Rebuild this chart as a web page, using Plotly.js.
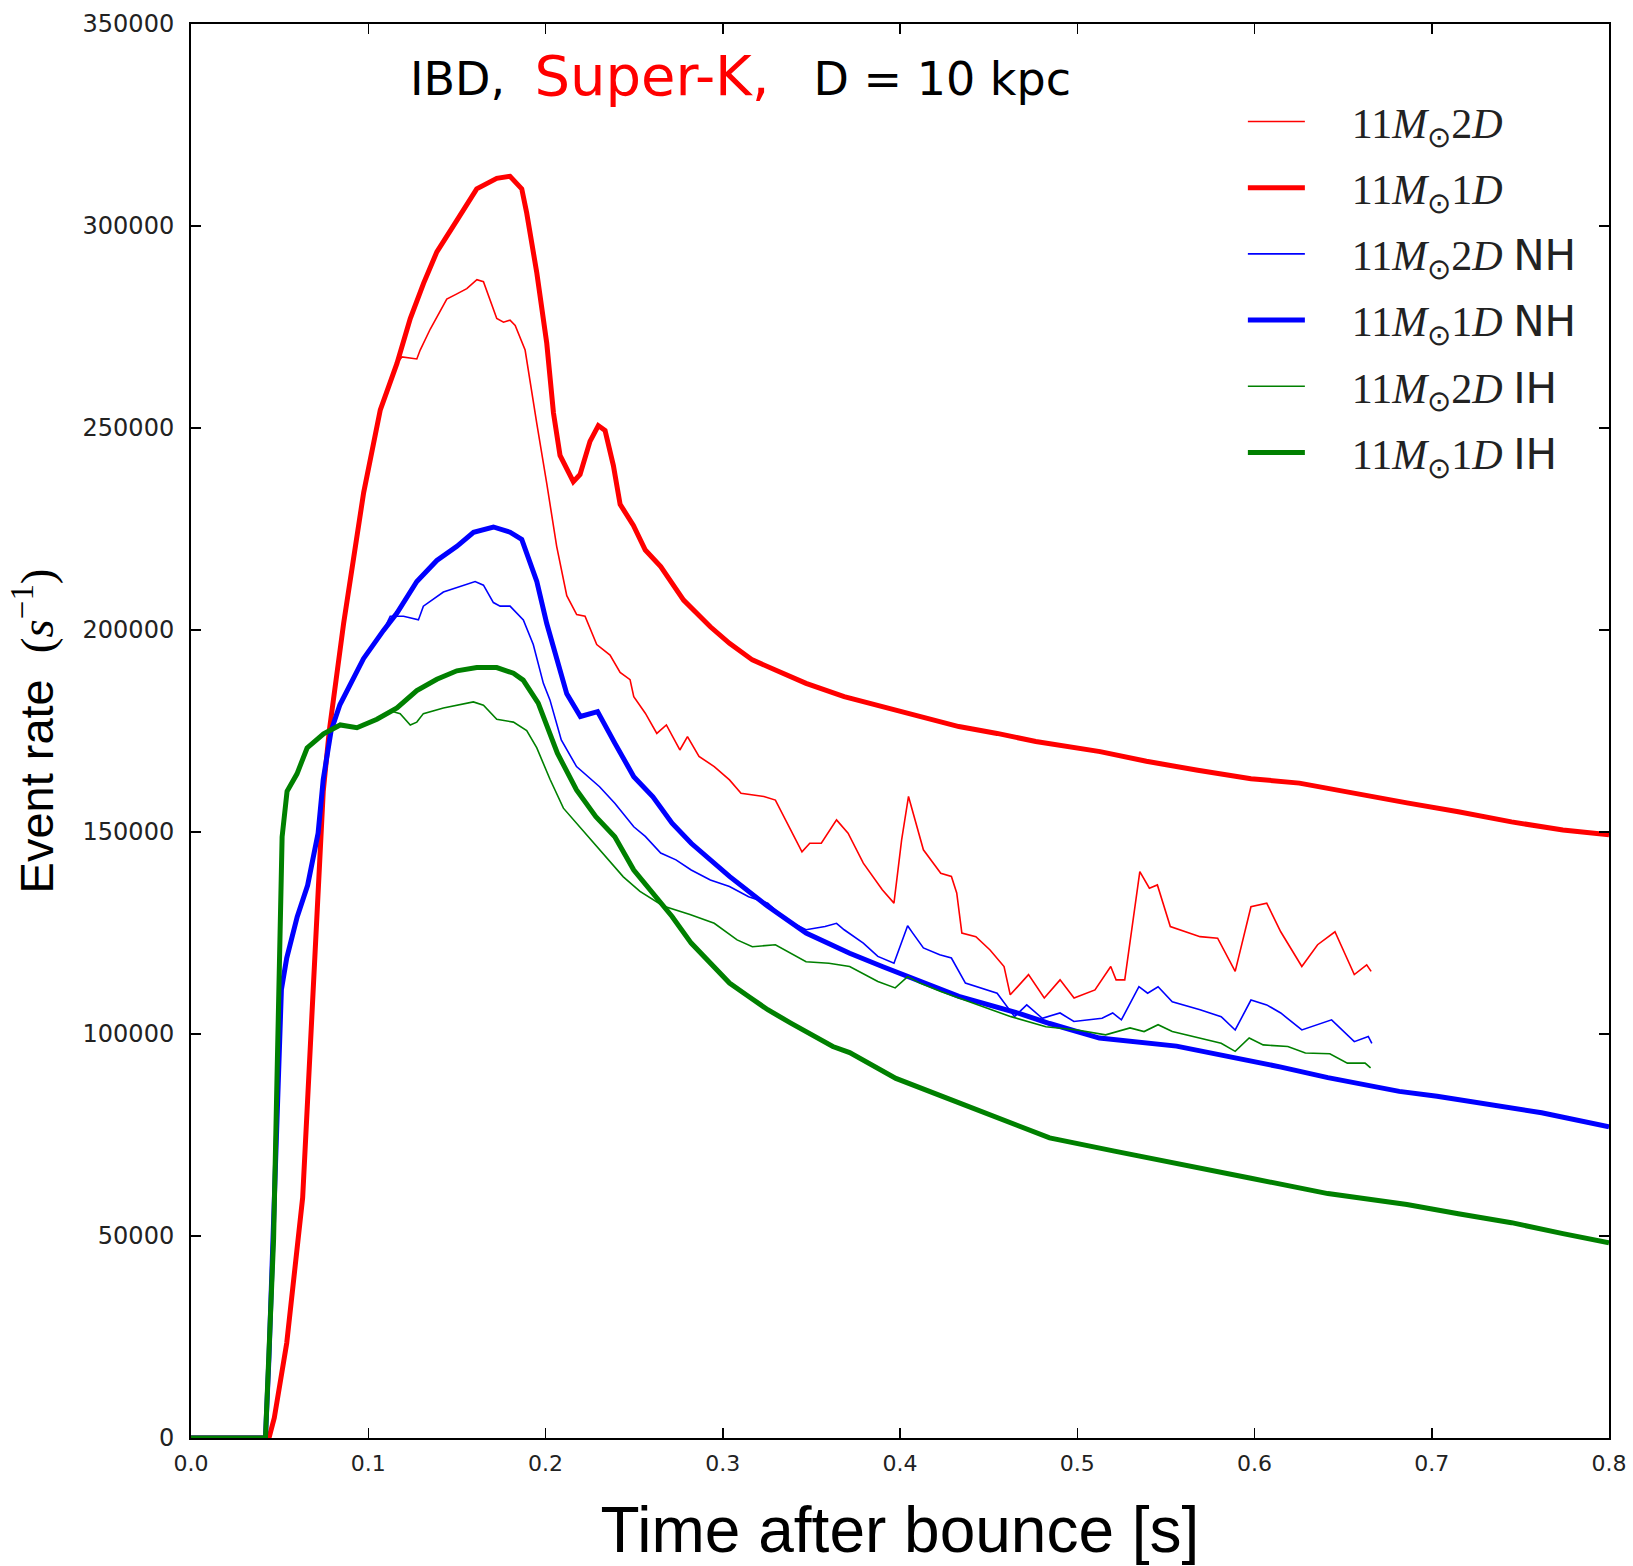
<!DOCTYPE html>
<html>
<head>
<meta charset="utf-8">
<script src="https://cdn.plot.ly/plotly-3.0.1.min.js"></script>
<style>html,body{margin:0;padding:0;background:#fff;} #chart{width:1633px;height:1566px;}</style>
</head>
<body>
<div id="chart"></div>
<script>
// ---- Data (time after bounce [s], event rate [1/s]) ----
const red1D_t = [0, 0.044, 0.047, 0.054, 0.063, 0.0687, 0.0746, 0.078, 0.0804, 0.0861, 0.0974, 0.1068, 0.1162, 0.1237, 0.1312, 0.1387, 0.15, 0.1612, 0.1725, 0.18, 0.1866, 0.1894, 0.1951, 0.2007, 0.2045, 0.2082, 0.2157, 0.2195, 0.2251, 0.2298, 0.2336, 0.2383, 0.2421, 0.2496, 0.2563, 0.265, 0.2779, 0.293, 0.3038, 0.3167, 0.3297, 0.347, 0.3685, 0.39, 0.4117, 0.4332, 0.4548, 0.4766, 0.5129, 0.539, 0.568, 0.598, 0.6253, 0.656, 0.686, 0.715, 0.745, 0.774, 0.8];
const red1D_v = [0, 0, 5000, 23500, 59500, 111000, 160000, 175000, 182700, 201600, 234000, 254500, 266000, 277100, 285800, 293600, 301400, 309200, 311800, 312300, 309200, 303200, 288400, 271000, 253700, 243200, 236700, 238500, 246700, 250600, 249400, 240700, 231100, 225900, 219800, 215700, 207400, 200800, 196700, 192600, 190100, 186800, 183500, 181000, 178600, 176100, 174400, 172400, 169900, 167500, 165300, 163200, 162100, 159500, 157200, 155000, 152500, 150500, 149300];

const red2D_t = [0, 0.044, 0.047, 0.054, 0.063, 0.0687, 0.0746, 0.078, 0.0804, 0.0861, 0.0974, 0.1068, 0.1162, 0.119, 0.1274, 0.1293, 0.135, 0.1443, 0.15, 0.1556, 0.1613, 0.165, 0.1725, 0.1763, 0.18, 0.1829, 0.1885, 0.1894, 0.1951, 0.2007, 0.2063, 0.212, 0.2176, 0.2223, 0.2289, 0.2364, 0.2421, 0.2477, 0.2498, 0.2563, 0.2628, 0.2682, 0.2758, 0.2801, 0.2866, 0.2952, 0.3038, 0.3103, 0.3232, 0.3297, 0.3405, 0.3447, 0.3491, 0.3556, 0.3642, 0.3707, 0.3793, 0.39, 0.3966, 0.4009, 0.4048, 0.4092, 0.4132, 0.423, 0.429, 0.432, 0.4349, 0.4428, 0.4508, 0.4587, 0.4622, 0.4725, 0.4814, 0.4903, 0.4982, 0.51, 0.5189, 0.5219, 0.5268, 0.5353, 0.5407, 0.5452, 0.5525, 0.5693, 0.5792, 0.5891, 0.598, 0.6069, 0.6148, 0.6267, 0.6356, 0.6454, 0.6563, 0.6633, 0.6658];
const red2D_v = [0, 0, 5000, 23500, 59500, 111000, 160000, 175000, 182700, 201600, 234000, 254500, 266000, 267600, 267100, 269300, 274500, 281900, 283200, 284500, 286700, 286200, 277100, 276200, 276700, 275400, 269300, 266700, 251100, 236300, 220700, 208500, 203800, 203400, 196400, 193800, 189500, 187700, 183500, 179400, 174400, 176500, 170300, 173600, 168700, 166200, 162900, 159600, 158800, 157900, 148800, 145100, 147200, 147200, 153000, 149700, 142300, 135700, 132400, 148000, 158800, 152200, 145600, 139800, 139000, 134900, 125000, 124100, 120800, 116700, 109700, 114700, 108900, 113400, 108900, 110900, 116700, 113400, 113400, 140200, 136100, 136900, 126600, 124100, 123700, 115500, 131500, 132400, 125300, 116700, 122100, 125300, 114700, 117100, 115500];

const blue1D_t = [0, 0.042, 0.044, 0.046, 0.0482, 0.051, 0.054, 0.0599, 0.0658, 0.0717, 0.0746, 0.079, 0.084, 0.088, 0.0973, 0.1086, 0.1162, 0.1274, 0.1387, 0.15, 0.1594, 0.1706, 0.18, 0.1866, 0.1894, 0.1951, 0.2007, 0.2063, 0.212, 0.2197, 0.2294, 0.2391, 0.2498, 0.2606, 0.2714, 0.2822, 0.293, 0.3038, 0.3254, 0.347, 0.3716, 0.39, 0.4332, 0.468, 0.4844, 0.5125, 0.556, 0.586, 0.615, 0.6414, 0.6817, 0.703, 0.727, 0.762, 0.8];
const blue1D_v = [0, 0, 20000, 46600, 72400, 111000, 118800, 129000, 136800, 149700, 163000, 175000, 181500, 185100, 192900, 199900, 204200, 212000, 217200, 220700, 224200, 225500, 224200, 222400, 219000, 212000, 201600, 192900, 184200, 178600, 179800, 172000, 163700, 158700, 152200, 147200, 143100, 139000, 131600, 125000, 120000, 116700, 109300, 105000, 102600, 99000, 97000, 94500, 91800, 89200, 85800, 84600, 83000, 80500, 77000];

const blue2D_t = [0, 0.042, 0.044, 0.046, 0.0482, 0.051, 0.054, 0.0599, 0.0658, 0.0717, 0.0746, 0.079, 0.084, 0.088, 0.0973, 0.1086, 0.1124, 0.1199, 0.1283, 0.1311, 0.1424, 0.1519, 0.1603, 0.165, 0.1706, 0.1744, 0.18, 0.1875, 0.1931, 0.1988, 0.2025, 0.2089, 0.2175, 0.2305, 0.2391, 0.2498, 0.2563, 0.265, 0.2736, 0.2822, 0.293, 0.3038, 0.3146, 0.3254, 0.3361, 0.347, 0.3577, 0.3642, 0.3685, 0.3793, 0.3875, 0.3966, 0.4009, 0.4043, 0.4073, 0.4132, 0.4224, 0.429, 0.4369, 0.4548, 0.4646, 0.4715, 0.4803, 0.4903, 0.4981, 0.514, 0.52, 0.5249, 0.5348, 0.5397, 0.5456, 0.5536, 0.5693, 0.5812, 0.5891, 0.598, 0.6069, 0.6148, 0.6267, 0.6435, 0.6563, 0.6642, 0.6662];
const blue2D_v = [0, 0, 20000, 46600, 72400, 111000, 118800, 129000, 136800, 149700, 163000, 175000, 181500, 185100, 192900, 199900, 203400, 203400, 202500, 205900, 209400, 210700, 212000, 211100, 206800, 205900, 205900, 202500, 196400, 186800, 182700, 172800, 166200, 161200, 157100, 151300, 148900, 144800, 143100, 140600, 138100, 136500, 134000, 132400, 128200, 125800, 126600, 127400, 125800, 122500, 119200, 117500, 122500, 126800, 124900, 121300, 119600, 118800, 112600, 110100, 104300, 107200, 103900, 105200, 103100, 103900, 105200, 103500, 111700, 110100, 111700, 108000, 106000, 104300, 101000, 108400, 107200, 105200, 101000, 103500, 98100, 99400, 97700];

const green1D_t = [0, 0.042, 0.0466, 0.0494, 0.0514, 0.0542, 0.0598, 0.0655, 0.0748, 0.0842, 0.0936, 0.1049, 0.1162, 0.1274, 0.1387, 0.15, 0.1612, 0.1725, 0.1819, 0.1874, 0.1959, 0.2067, 0.2175, 0.2284, 0.2391, 0.2498, 0.2607, 0.2714, 0.2822, 0.293, 0.3038, 0.3146, 0.3254, 0.3384, 0.3621, 0.3716, 0.3977, 0.429, 0.4447, 0.468, 0.4844, 0.521, 0.5447, 0.568, 0.598, 0.6414, 0.686, 0.715, 0.745, 0.774, 0.8];
const green1D_v = [0, 0, 49300, 106200, 148800, 160100, 164400, 170800, 174300, 176500, 175800, 177900, 180700, 185000, 187800, 189900, 190700, 190700, 189300, 187600, 181900, 169500, 160400, 153800, 148800, 140600, 134900, 129100, 122500, 117500, 112600, 109300, 106000, 102700, 96900, 95400, 89000, 83700, 81000, 77000, 74300, 71000, 69000, 67000, 64300, 60500, 57800, 55500, 53300, 50600, 48300];

const green2D_t = [0, 0.042, 0.0466, 0.0494, 0.0514, 0.0542, 0.0598, 0.0655, 0.0748, 0.0842, 0.0936, 0.1049, 0.1124, 0.118, 0.1237, 0.1274, 0.1311, 0.1424, 0.1593, 0.165, 0.1725, 0.1819, 0.1894, 0.1951, 0.2026, 0.2101, 0.2213, 0.2326, 0.2439, 0.2533, 0.2664, 0.2815, 0.2952, 0.3081, 0.3167, 0.3297, 0.3384, 0.347, 0.3599, 0.3716, 0.3875, 0.3973, 0.4043, 0.4112, 0.423, 0.4309, 0.4468, 0.4626, 0.4823, 0.5001, 0.516, 0.5298, 0.5377, 0.5456, 0.5536, 0.5693, 0.5812, 0.5891, 0.597, 0.6049, 0.6188, 0.6287, 0.6425, 0.6524, 0.6624, 0.6655];
const green2D_v = [0, 0, 49300, 106200, 148800, 160100, 164400, 170800, 174300, 176500, 175800, 177900, 180000, 179300, 176500, 177200, 179300, 180700, 182200, 181400, 177900, 177200, 175100, 170800, 163000, 155900, 150200, 144500, 138900, 135300, 131700, 129600, 127400, 123300, 121600, 122100, 120000, 117900, 117500, 116700, 113000, 111400, 114200, 112600, 110500, 109300, 106800, 104300, 101800, 101000, 99800, 101500, 100600, 102300, 100600, 99000, 97700, 95700, 99000, 97300, 96900, 95300, 95100, 92800, 92800, 91600];

const legendPad = '\u00a0\u00a0\u00a0\u00a0';
const seriesNames = [
  legendPad + '11<i>M</i><sub>⊙</sub>2<i>D</i>',
  legendPad + '11<i>M</i><sub>⊙</sub>1<i>D</i>',
  legendPad + '11<i>M</i><sub>⊙</sub>2<i>D</i> <span style="font-family:DejaVu Sans">NH</span>',
  legendPad + '11<i>M</i><sub>⊙</sub>1<i>D</i> <span style="font-family:DejaVu Sans">NH</span>',
  legendPad + '11<i>M</i><sub>⊙</sub>2<i>D</i> <span style="font-family:DejaVu Sans">IH</span>',
  legendPad + '11<i>M</i><sub>⊙</sub>1<i>D</i> <span style="font-family:DejaVu Sans">IH</span>'
];
const xTicks = [0, 0.1, 0.2, 0.3, 0.4, 0.5, 0.6, 0.7, 0.8];
const yTicks = [0, 50000, 100000, 150000, 200000, 250000, 300000, 350000];

// ---- Traces ----
const specs = [
  [red2D_t, red2D_v, '#ff0000', 1.6],
  [red1D_t, red1D_v, '#ff0000', 5],
  [blue2D_t, blue2D_v, '#0000ff', 1.6],
  [blue1D_t, blue1D_v, '#0000ff', 5],
  [green2D_t, green2D_v, '#008000', 1.6],
  [green1D_t, green1D_v, '#008000', 5]
];
const traces = specs.map((s, i) => ({
  type: 'scatter', mode: 'lines',
  x: s[0], y: s[1], name: seriesNames[i],
  legendgroup: 'g' + i,
  line: {color: s[2], width: s[3]},
  hoverinfo: 'skip'
}));

const layout = {
  width: 1633, height: 1566,
  margin: {l: 191, r: 24, t: 24, b: 128, pad: 0},
  paper_bgcolor: '#ffffff', plot_bgcolor: '#ffffff',
  showlegend: true,
  legend: {
    x: 0.7418, xanchor: 'left', y: 0.955, yanchor: 'top',
    bgcolor: 'rgba(255,255,255,0)', borderwidth: 0,
    font: {family: 'Liberation Serif', size: 42, color: '#222222'},
    itemwidth: 57, tracegroupgap: 8.6
  },
  xaxis: {
    range: [0, 0.8], tickvals: xTicks, tickformat: '.1f',
    ticks: 'inside', ticklen: 10, tickwidth: 1.5, tickcolor: '#000',
    showline: true, linecolor: '#000', linewidth: 2, mirror: 'allticks',
    showgrid: false, zeroline: false,
    ticklabelstandoff: 5,
    tickfont: {family: 'DejaVu Sans', size: 22, color: '#222'},
    title: {text: 'Time after bounce [s]', standoff: 33,
            font: {family: 'Liberation Sans', size: 64, color: '#000'}}
  },
  yaxis: {
    range: [0, 350000], tickvals: yTicks, tickformat: 'd',
    ticks: 'inside', ticklen: 10, tickwidth: 1.5, tickcolor: '#000',
    showline: true, linecolor: '#000', linewidth: 2, mirror: 'allticks',
    showgrid: false, zeroline: false,
    ticklabelstandoff: 10,
    tickfont: {family: 'DejaVu Sans', size: 24, color: '#222'},
    title: {text: 'Event rate\u00a0\u00a0<span style="font-family:Liberation Serif">(<i>s</i><sup>−1</sup>)</span>',
            standoff: 14,
            font: {family: 'Liberation Sans', size: 47, color: '#000'}}
  },
  annotations: [{
    xref: 'paper', yref: 'paper', x: 0.153, y: 0.9635,
    xanchor: 'left', yanchor: 'middle', showarrow: false,
    text: 'IBD,\u00a0 <span style="color:#ff0000;font-size:56px">Super-K,</span>\u00a0\u00a0 D = 10 kpc',
    font: {family: 'DejaVu Sans', size: 46, color: '#000'}
  }]
};

Plotly.newPlot('chart', traces, layout, {displayModeBar: false, staticPlot: true});
</script>
</body>
</html>
